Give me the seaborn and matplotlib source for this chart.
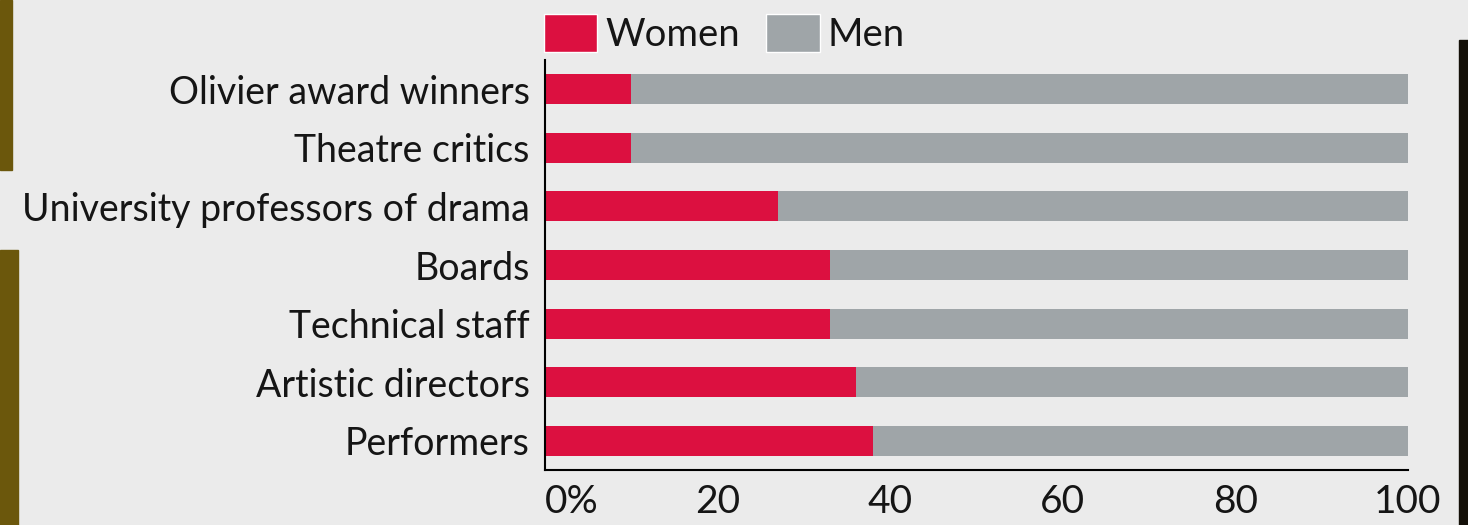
import matplotlib
matplotlib.use("Agg")
import matplotlib.pyplot as plt
from matplotlib.patches import Patch, Rectangle
import seaborn as sns
import pandas as pd

# chart data
categories = ["Olivier award winners", "Theatre critics", "University professors of drama",
              "Boards", "Technical staff", "Artistic directors", "Performers"]
women = [10, 10, 27, 33, 33, 36, 38]
men = [90, 90, 73, 67, 67, 64, 62]
tick_values = [0, 20, 40, 60, 80, 100]
tick_labels = ["0%", "20", "40", "60", "80", "100"]

RED = "#dc1040"
GREY = "#9fa5a8"
PAPER = "#ebebeb"
INK = "#151515"

sns.set_theme(style="white")
plt.rcParams['font.family'] = ['Lato', 'DejaVu Sans']

df = pd.DataFrame({"category": categories, "women": women, "men": men})
df["total"] = df["women"] + df["men"]

fig = plt.figure(figsize=(14.68, 5.25), dpi=100, facecolor=PAPER)
ax = fig.add_axes([545 / 1468, 1 - 470 / 525, (1408 - 545) / 1468, (470 - 60) / 525])
ax.set_facecolor(PAPER)

# grey full bar first, then women on top
sns.barplot(data=df, x="total", y="category", color=GREY, width=0.51,
            saturation=1, linewidth=0, ax=ax, orient="h")
sns.barplot(data=df, x="women", y="category", color=RED, width=0.51,
            saturation=1, linewidth=0, ax=ax, orient="h")

ax.set_xlim(0, 100)
ax.set_ylim(6.5, -0.5)
ax.set_xlabel("")
ax.set_ylabel("")
ax.set_xticks(tick_values)
ax.set_xticklabels(tick_labels)
ax.tick_params(axis="x", direction="in", length=7, width=1.4, color="black",
               pad=10, labelsize=28, labelcolor=INK)
ax.tick_params(axis="y", length=0, pad=11, labelsize=27, labelcolor=INK)
ax.get_xticklabels()[0].set_horizontalalignment("left")

for side in ["top", "right"]:
    ax.spines[side].set_visible(False)
for side in ["left", "bottom"]:
    ax.spines[side].set_color("black")
    ax.spines[side].set_linewidth(1.5)

handles = [Patch(facecolor=RED, label="Women"), Patch(facecolor=GREY, label="Men")]
leg = fig.legend(handles=handles, loc="upper left", bbox_to_anchor=(544 / 1468, 1 - 14 / 525),
                 ncol=2, frameon=False, fontsize=27.5, borderpad=0, borderaxespad=0,
                 handlelength=1.4, handleheight=1.15, handletextpad=0.2, columnspacing=0.7)
for t in leg.get_texts():
    t.set_color(INK)

# torn paper edges
fig.patches.append(Rectangle((0, 1 - 170 / 525), 12 / 1468, 170 / 525,
                             transform=fig.transFigure, color="#6b570c", zorder=0))
fig.patches.append(Rectangle((0, 0), 18 / 1468, 275 / 525,
                             transform=fig.transFigure, color="#6b570c", zorder=0))
fig.patches.append(Rectangle((1 - 9 / 1468, 0), 9 / 1468, 1 - 40 / 525,
                             transform=fig.transFigure, color="#141008", zorder=0))

fig.savefig("out.png", dpi=100, facecolor=PAPER)
